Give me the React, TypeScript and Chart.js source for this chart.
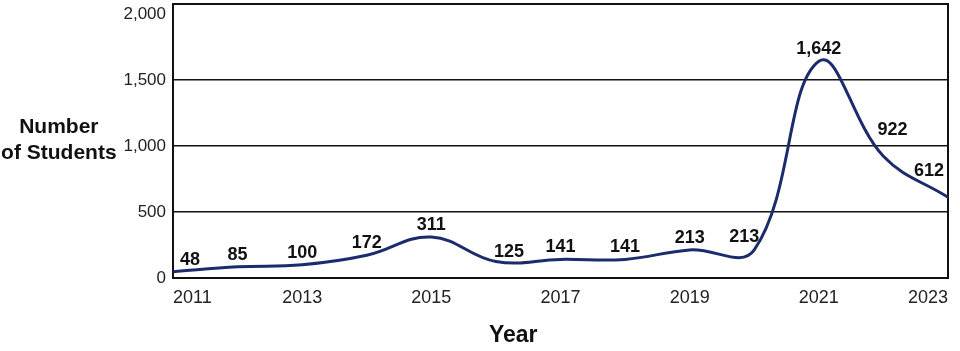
import React, { useEffect, useRef } from "react";
import { Chart, registerables } from "chart.js";

Chart.register(...registerables);

const years = ["2011", "2012", "2013", "2014", "2015", "2016", "2017", "2018", "2019", "2020", "2021", "2022", "2023"];
const students = [48, 85, 100, 172, 311, 125, 141, 141, 213, 213, 1642, 922, 612];
const valueLabels = ["48", "85", "100", "172", "311", "125", "141", "141", "213", "213", "1,642", "922", "612"];
const yTickValues = [0, 500, 1000, 1500, 2000];
const yAxisTitle = ["Number", "of Students"];
const xAxisTitle = "Year";

const FONT = "'Liberation Sans', Arial, Helvetica, sans-serif";
const LINE_COLOR = "#1c2b6b";

const boxPlugin = {
  id: "boxPlugin",
  beforeDatasetsDraw(chart: any) {
    const { ctx, chartArea } = chart;
    ctx.save();
    ctx.strokeStyle = "#111";
    ctx.lineWidth = 2;
    ctx.strokeRect(chartArea.left, chartArea.top, chartArea.right - chartArea.left, chartArea.bottom - chartArea.top);
    ctx.restore();
  },
};

const textPlugin = {
  id: "textPlugin",
  afterDatasetsDraw(chart: any) {
    const { ctx, chartArea } = chart;
    const pts = chart.getDatasetMeta(0).data;
    ctx.save();
    ctx.fillStyle = "#111";
    ctx.font = `bold 18px ${FONT}`;
    ctx.textAlign = "center";
    ctx.textBaseline = "middle";
    pts.forEach((pt: any, i: number) => {
      const text = valueLabels[i];
      const w = ctx.measureText(text).width;
      const prev = pts[i - 1];
      const next = pts[i + 1];
      const upL = prev ? pt.y - prev.y : 0;
      const upR = next ? pt.y - next.y : 0;
      let dx = 0;
      let dy = -12;
      if (upR > 40 && upR > upL) {
        dx = -10;
        dy = -13;
      } else if (upL > 30) {
        dx = 9;
        dy = -26;
      } else if (upL > 15) {
        dx = 13;
        dy = -9;
      }
      let x = pt.x + dx;
      const minX = chartArea.left + 7 + w / 2;
      const maxX = chartArea.right - 4 - w / 2;
      if (x < minX) x = minX;
      if (x > maxX) x = maxX;
      ctx.fillText(text, x, pt.y + dy);
    });

    ctx.font = `bold 21px ${FONT}`;
    ctx.textBaseline = "alphabetic";
    const midY = (chartArea.top + chartArea.bottom) / 2;
    const tx = chartArea.left * 0.34;
    ctx.fillText(yAxisTitle[0], tx, midY - 8);
    ctx.fillText(yAxisTitle[1], tx, midY + 18);

    ctx.font = `bold 23px ${FONT}`;
    ctx.fillText(xAxisTitle, chartArea.left + (chartArea.right - chartArea.left) * 0.439, chart.height - 9);
    ctx.restore();
  },
};

export default function App() {
  const ref = useRef<HTMLCanvasElement | null>(null);

  useEffect(() => {
    if (!ref.current) return;
    const chart = new Chart(ref.current, {
      type: "line",
      data: {
        labels: years,
        datasets: [
          {
            data: students,
            borderColor: LINE_COLOR,
            borderWidth: 3,
            pointRadius: 0,
            tension: 0.4,
            fill: false,
          },
        ],
      },
      options: {
        animation: false,
        responsive: true,
        maintainAspectRatio: false,
        layout: { padding: { left: 0, top: 4, right: 12, bottom: 0 } },
        plugins: {
          legend: { display: false },
          tooltip: { enabled: false },
        },
        scales: {
          x: {
            grid: { display: false, drawTicks: false },
            border: { display: false },
            ticks: {
              autoSkip: false,
              maxRotation: 0,
              align: "inner",
              padding: 9,
              color: "#222",
              font: { family: FONT, size: 18 },
              callback: (_v: any, i: number) => (i % 2 === 0 ? years[i] : ""),
            },
            afterFit: (scale: any) => {
              scale.height = 73;
              scale.paddingLeft = 0;
              scale.paddingRight = 0;
            },
          },
          y: {
            min: 0,
            max: 2076,
            afterBuildTicks: (scale: any) => {
              scale.ticks = yTickValues.map((v) => ({ value: v }));
            },
            grid: {
              drawTicks: false,
              lineWidth: 1.5,
              color: (c: any) =>
                c.tick && (c.tick.value === 0 || c.tick.value === 2000) ? "rgba(0,0,0,0)" : "#111",
            },
            border: { display: false },
            ticks: {
              padding: 7,
              color: "#222",
              font: { family: FONT, size: 17 },
              callback: (v: any) => Number(v).toLocaleString("en-US"),
            },
            afterFit: (scale: any) => {
              scale.width = 173;
              scale.paddingTop = 0;
              scale.paddingBottom = 0;
            },
          },
        },
      },
      plugins: [boxPlugin, textPlugin],
    } as any);
    return () => chart.destroy();
  }, []);

  return (
    <div style={{ position: "absolute", left: 0, top: 0, width: 960, height: 351 }}>
      <canvas ref={ref} />
    </div>
  );
}
